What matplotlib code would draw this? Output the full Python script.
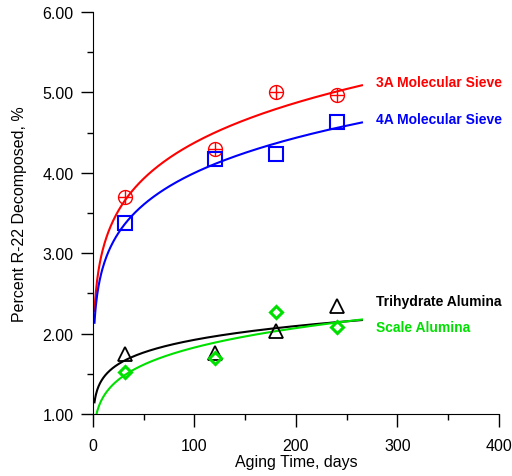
import numpy as np
import matplotlib
matplotlib.use("Agg")
import matplotlib.pyplot as plt
from matplotlib.ticker import MultipleLocator, FormatStrFormatter

plt.rcParams['font.family'] = ['Liberation Sans', 'DejaVu Sans']

days = [32, 120, 180, 240]
sieve_3a = [3.70, 4.30, 5.01, 4.97]
sieve_4a = [3.37, 4.17, 4.24, 4.63]
trihydrate = [1.74, 1.76, 2.03, 2.34]
scale_al = [1.52, 1.70, 2.27, 2.08]

series = [
    ("3A Molecular Sieve", sieve_3a, "#ff0000", 5.13),
    ("4A Molecular Sieve", sieve_4a, "#0000ff", 4.67),
    ("Trihydrate Alumina", trihydrate, "#000000", 2.41),
    ("Scale Alumina", scale_al, "#00e000", 2.08),
]

fig = plt.figure(figsize=(5.12, 4.77), dpi=100)
ax = fig.add_axes([0.1816, 0.130, 0.793, 0.8427])

xfit = np.linspace(1.5, 265, 400)
for name, vals, col, ty in series:
    # power-law fit y = a * x^b, as in the original
    b, lna = np.polyfit(np.log(days), np.log(vals), 1)
    ax.plot(xfit, np.exp(lna) * xfit ** b, color=col, lw=1.5, zorder=2)
    ax.text(279, ty, name, color=col, fontsize=10, fontweight='bold', va='center')

# markers
ax.plot(days, sieve_3a, 'o', ms=10, mfc='none', mec='#ff0000', mew=1.0, zorder=3)
ax.plot(days, sieve_3a, '+', ms=10, mec='#ff0000', mew=1.0, zorder=3)
ax.plot(days, sieve_4a, 's', ms=10, mfc='none', mec='#0000ff', mew=1.5, zorder=3)
ax.plot(days, trihydrate, '^', ms=10, mfc='none', mec='#000000', mew=1.3, zorder=3)
ax.plot(days, scale_al, 'D', ms=6.5, mfc='none', mec='#00e000', mew=2.2, zorder=3)

ax.set_xlim(0, 400)
ax.set_ylim(1, 6)
ax.xaxis.set_major_locator(MultipleLocator(100))
ax.xaxis.set_minor_locator(MultipleLocator(50))
ax.yaxis.set_major_locator(MultipleLocator(1))
ax.yaxis.set_minor_locator(MultipleLocator(0.5))
ax.yaxis.set_major_formatter(FormatStrFormatter('%.2f'))
ax.tick_params(which='major', length=9, width=1, labelsize=11.5, direction='out')
ax.tick_params(which='minor', length=4.5, width=1, direction='out')
ax.tick_params(axis='x', which='major', pad=8)
ax.tick_params(axis='y', which='major', pad=5)
ax.spines['top'].set_visible(False)
ax.spines['right'].set_visible(False)
ax.set_xlabel("Aging Time, days", fontsize=11.5, labelpad=1)
ax.set_ylabel("Percent R-22 Decomposed, %", fontsize=11.5, labelpad=11)

fig.savefig("out.png", dpi=100)
